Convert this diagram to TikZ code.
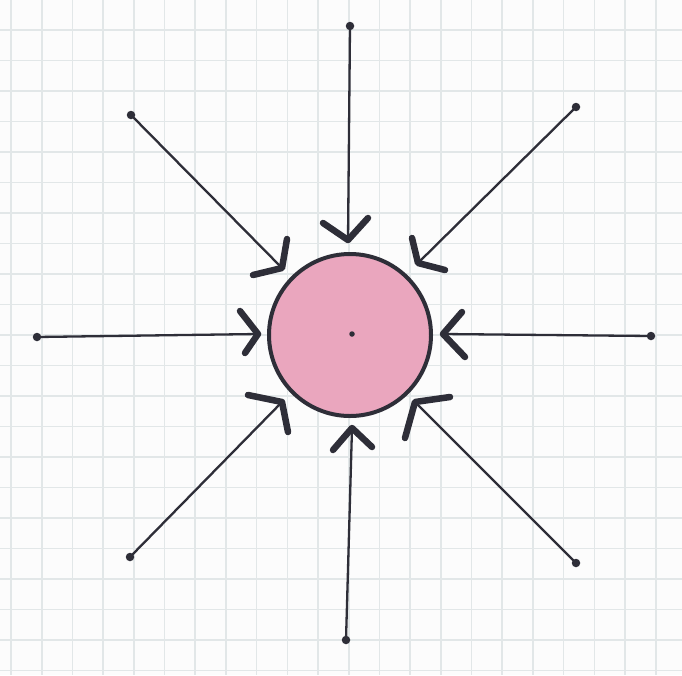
\documentclass[tikz,border=0pt]{standalone}
\usetikzlibrary{calc}
\definecolor{gridc}{RGB}{226,231,232}
\definecolor{ink}{RGB}{46,46,56}
\definecolor{pinkfill}{RGB}{234,166,190}
\definecolor{paper}{RGB}{252,252,252}
\begin{document}
\begin{tikzpicture}[x=1pt,y=-1pt,
  gridline/.style={draw=gridc,line width=1.6pt},
  shaft/.style={draw=ink,line width=2.3pt,line cap=round},
  headarm/.style={draw=ink,line width=6.5pt,line cap=round,line join=round},
  enddot/.style={circle,fill=ink,inner sep=0pt,minimum size=8.5pt},
  ball/.style={circle,draw=ink,line width=4pt,fill=pinkfill,minimum size=162pt,inner sep=0pt}]
\useasboundingbox (0,0) rectangle (682,675);
\fill[paper] (0,0) rectangle (682,675);
% grid
\foreach \k in {-1,...,20} {
  \draw[gridline] ({41.7+30.7*\k},0) -- ({41.7+30.7*\k},675);
}
\foreach \k in {-1,...,21} {
  \draw[gridline] (0,{30+30.5*\k}) -- (682,{30+30.5*\k});
}
% central circle
\node[ball] (c) at (350,335) {};
\node[enddot,minimum size=5.5pt] (cc) at (352,334) {};
% end dots
\node[enddot] (dN)  at (350,26) {};
\node[enddot] (dNW) at (131,115) {};
\node[enddot] (dNE) at (576,107) {};
\node[enddot] (dW)  at (37,337) {};
\node[enddot] (dE)  at (651,336) {};
\node[enddot] (dSW) at (130,557) {};
\node[enddot] (dS)  at (346,640) {};
\node[enddot] (dSE) at (576,563) {};
% tips
\coordinate (tN)  at (348,240);
\coordinate (tNW) at (282,268);
\coordinate (tNE) at (418,263);
\coordinate (tW)  at (258,334);
\coordinate (tE)  at (443,334);
\coordinate (tSW) at (282,402);
\coordinate (tS)  at (352,428);
\coordinate (tSE) at (415,402);
% shafts
\foreach \d in {N,NW,NE,W,E,SW,S,SE} {
  \draw[shaft] (d\d.center) -- (t\d);
}
% arrowheads
\draw[headarm] (323,223) -- (tN) -- (368,218);
\draw[headarm] (287,239) -- (tNW) -- (253,275);
\draw[headarm] (412,238) -- (tNE) -- (445,270);
\draw[headarm] (240,311) -- (tW) -- (245,353);
\draw[headarm] (462,312) -- (tE) -- (465,357);
\draw[headarm] (248,395) -- (tSW) -- (288,432);
\draw[headarm] (333,450) -- (tS) -- (372,447);
\draw[headarm] (450,397) -- (tSE) -- (405,438);
\end{tikzpicture}
\end{document}
